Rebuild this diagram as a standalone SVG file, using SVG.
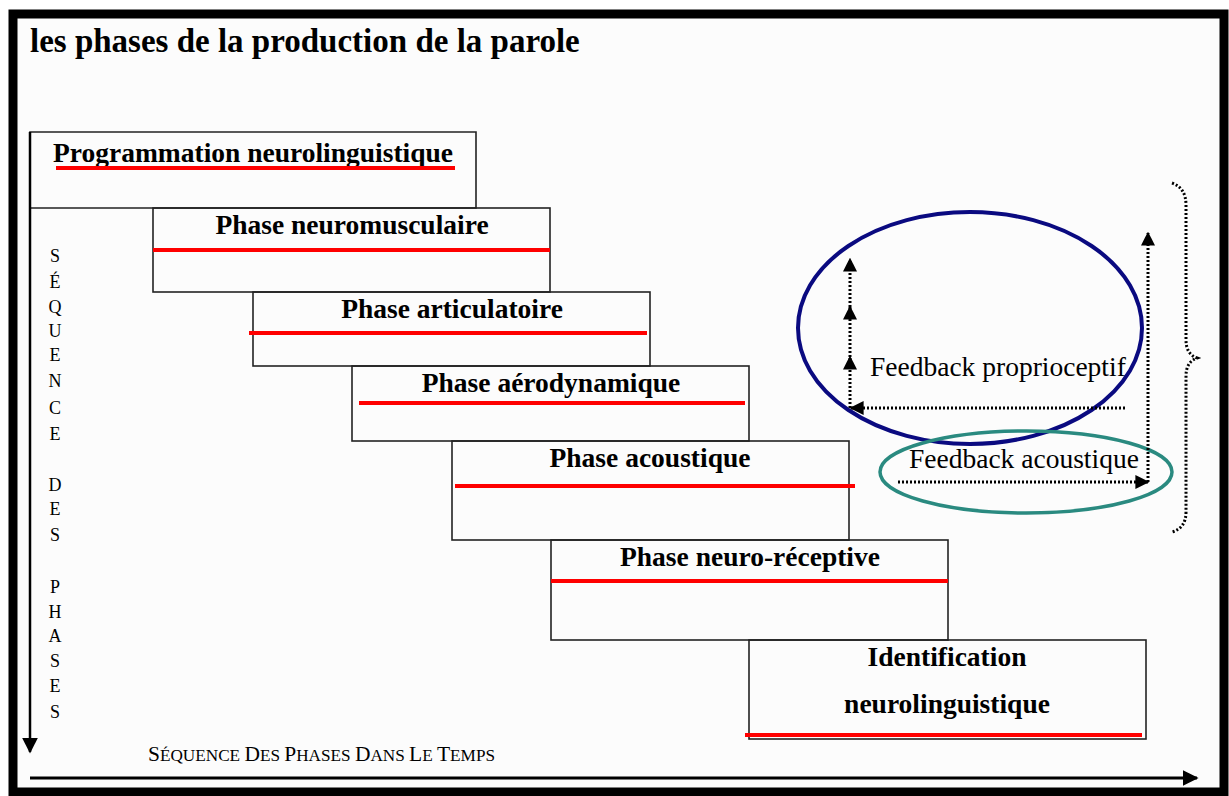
<svg xmlns="http://www.w3.org/2000/svg" width="1229" height="796" viewBox="0 0 1229 796">
<defs>
<style>
.box{fill:none;stroke:#222;stroke-width:1.6}
.red{stroke:#f00;stroke-width:4}
.bt{font-family:"Liberation Serif",serif;font-weight:bold;font-size:27.5px;fill:#000;text-anchor:middle}
.vl{font-family:"Liberation Serif",serif;font-size:18px;fill:#000;text-anchor:middle}
.fb{font-family:"Liberation Serif",serif;font-size:27.5px;fill:#000}
.dot{fill:none;stroke:#000;stroke-width:3;stroke-dasharray:2 2}
</style>
<marker id="ah" viewBox="0 0 10 10" refX="9" refY="5" markerWidth="14" markerHeight="14" markerUnits="userSpaceOnUse" orient="auto"><path d="M0,0 L10,5 L0,10 Z" fill="#000"/></marker>
<marker id="ahb" viewBox="0 0 10 10" refX="9" refY="5" markerWidth="16" markerHeight="16" markerUnits="userSpaceOnUse" orient="auto"><path d="M0,0 L10,5 L0,10 Z" fill="#000"/></marker>
</defs>
<rect x="0" y="0" width="1229" height="796" fill="#fff"/>
<rect x="13" y="14" width="1211" height="778" fill="#fcfcfc" stroke="#000" stroke-width="9"/>
<text x="30" y="52" font-family="Liberation Serif,serif" font-weight="bold" font-size="33" fill="#000">les phases de la production de la parole</text>

<g id="n1"><path class="box" d="M30,132 H476 V208 H30 Z"/><text class="bt" x="253" y="162">Programmation neurolinguistique</text><line class="red" x1="56" y1="168" x2="455" y2="168"/></g>
<g id="n2"><rect class="box" x="153" y="208" width="397" height="84"/><text class="bt" x="352" y="234">Phase neuromusculaire</text><line class="red" x1="153" y1="250" x2="550" y2="250"/></g>
<g id="n3"><rect class="box" x="253" y="292" width="397" height="74"/><text class="bt" x="452" y="318">Phase articulatoire</text><line class="red" x1="249" y1="333" x2="647" y2="333"/></g>
<g id="n4"><rect class="box" x="352" y="366" width="397" height="75"/><text class="bt" x="551" y="392">Phase aérodynamique</text><line class="red" x1="359" y1="403" x2="745" y2="403"/></g>
<g id="n5"><rect class="box" x="452" y="441" width="397" height="99"/><text class="bt" x="650" y="467">Phase acoustique</text><line class="red" x1="455" y1="486" x2="855" y2="486"/></g>
<g id="n6"><rect class="box" x="551" y="540" width="397" height="100"/><text class="bt" x="750" y="566">Phase neuro-réceptive</text><line class="red" x1="551" y1="581" x2="948" y2="581"/></g>
<g id="n7"><rect class="box" x="749" y="640" width="397" height="99"/><text class="bt" x="947" y="666">Identification</text><text class="bt" x="947" y="713">neurolinguistique</text><line class="red" x1="745" y1="735" x2="1142" y2="735"/></g>

<g id="prop"><ellipse cx="970" cy="328" rx="172" ry="116" fill="none" stroke="#0a0a80" stroke-width="4"/><text class="fb" x="870" y="376">Feedback proprioceptif</text></g>
<g id="acou"><ellipse cx="1026" cy="472" rx="146" ry="41" fill="none" stroke="#2a8a80" stroke-width="3.5"/><text class="fb" x="909" y="468">Feedback acoustique</text></g>

<g id="axes">
<line x1="30" y1="132" x2="30" y2="752" stroke="#000" stroke-width="2.5" marker-end="url(#ahb)"/>
<line x1="30" y1="778" x2="1197" y2="778" stroke="#000" stroke-width="3" marker-end="url(#ahb)"/>
<g class="vl">
<text x="55" y="262">S</text><text x="55" y="288">É</text><text x="55" y="313">Q</text><text x="55" y="337">U</text><text x="55" y="361">E</text><text x="55" y="387">N</text><text x="55" y="414">C</text><text x="55" y="440">E</text>
<text x="55" y="491">D</text><text x="55" y="515">E</text><text x="55" y="541">S</text>
<text x="55" y="593">P</text><text x="55" y="618">H</text><text x="55" y="642">A</text><text x="55" y="667">S</text><text x="55" y="692">E</text><text x="55" y="718">S</text>
</g>
<text x="148" y="761" font-family="Liberation Serif,serif" font-size="16" fill="#000" textLength="347" lengthAdjust="spacingAndGlyphs"><tspan font-size="20">S</tspan>ÉQUENCE <tspan font-size="20">D</tspan>ES <tspan font-size="20">P</tspan>HASES <tspan font-size="20">D</tspan>ANS <tspan font-size="20">L</tspan>E <tspan font-size="20">T</tspan>EMPS</text>
</g>

<g id="connectors">
<line class="dot" x1="1125" y1="408" x2="851" y2="408" marker-end="url(#ah)"/>
<line class="dot" x1="850" y1="408" x2="850" y2="357" marker-end="url(#ah)"/>
<line class="dot" x1="850" y1="357" x2="850" y2="307" marker-end="url(#ah)"/>
<line class="dot" x1="850" y1="307" x2="850" y2="259" marker-end="url(#ah)"/>
<line class="dot" x1="898" y1="482" x2="1148" y2="482" marker-end="url(#ah)"/>
<line class="dot" x1="1148" y1="482" x2="1148" y2="233" marker-end="url(#ah)"/>
<path class="dot" stroke-width="2.5" d="M1172,183 Q1186,188 1186,205 V340 Q1186,354 1197,358 Q1186,362 1186,376 V512 Q1186,528 1172,532"/>
</g>
</svg>
